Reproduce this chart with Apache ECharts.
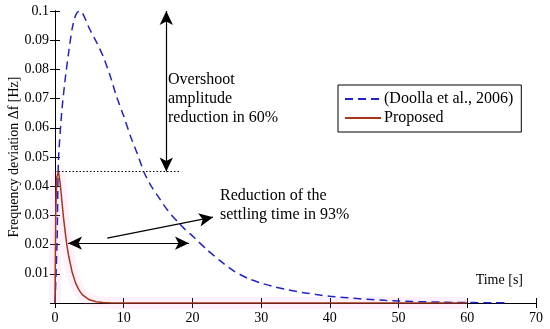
<!DOCTYPE html>
<html>
<head>
<meta charset="utf-8">
<script src="https://cdn.jsdelivr.net/npm/echarts@6/dist/echarts.min.js"></script>
<style>html,body{margin:0;padding:0;background:#fff}#c{width:550px;height:329px}</style>
</head>
<body>
<div id="c"></div>
<script>
// ---- data ----
var timeBlue = [0, 0.3, 0.5, 1, 1.5, 2, 2.5, 3, 3.5, 4, 4.5, 5, 6, 7, 8, 9, 10, 11, 12, 13, 14, 15, 16, 17, 18, 19, 20, 22, 24, 26, 28, 30, 32, 34, 36, 38, 40, 42, 44, 46, 48, 50, 52, 54, 56, 58, 60, 62, 64, 66];
var valBlue  = [0, 0.021, 0.049, 0.066, 0.077, 0.086, 0.094, 0.0985, 0.1, 0.0992, 0.0968, 0.094, 0.0895, 0.0845, 0.078, 0.0704, 0.064, 0.057, 0.051, 0.0445, 0.040, 0.0365, 0.033, 0.030, 0.0275, 0.025, 0.023, 0.0185, 0.0145, 0.011, 0.0085, 0.0068, 0.0055, 0.0045, 0.0036, 0.0029, 0.0023, 0.0019, 0.0015, 0.0012, 0.0009, 0.0007, 0.0005, 0.0004, 0.0003, 0.0002, 0.0002, 0.0001, 0.0001, 0.0001];
var timeRed = [0, 0.1, 0.25, 0.5, 0.75, 1, 1.25, 1.5, 1.75, 2, 2.5, 3, 3.5, 4, 5, 6, 7, 8, 10, 20, 30, 40, 50, 60];
var valRed  = [0, 0.03, 0.043, 0.045, 0.041, 0.035, 0.029, 0.024, 0.0195, 0.016, 0.0105, 0.0068, 0.0044, 0.0028, 0.0011, 0.0004, 0.00015, 0.00005, 0, 0, 0, 0, 0, 0];
var seriesNames = ['(Doolla et al., 2006)', 'Proposed'];
var xLabelText = 'Time [s]';
var yLabelText = 'Frequency deviation \u0394f [Hz]';
var overshootText = 'Overshoot\namplitude\nreduction in 60%';
var settlingText = 'Reduction of the\nsettling time in 93%';
// annotation anchors (data units)
var overshootArrow = [[16.2, 0.1], [16.2, 0.045]];
var overshootLevel = [[0, 0.045], [18.2, 0.045]];
var settlingArrow = [[1.9, 0.0205], [19.5, 0.0205]];
var pointerArrow = [[7.6, 0.0222], [23.0, 0.0294]];

function zip(a, b) { return a.map(function (t, i) { return [t, b[i]]; }); }

var FONT = 'Liberation Serif';
var chart = echarts.init(document.getElementById('c'), null, {renderer: 'canvas'});
var axisLine = {show: true, lineStyle: {color: '#000', width: 1}};
chart.setOption({
  animation: false,
  backgroundColor: '#fff',
  textStyle: {fontFamily: FONT},
  grid: {left: 55, right: 14, top: 11, bottom: 26, containLabel: false, outerBoundsMode: 'none'},
  legend: {
    left: 338, top: 85, orient: 'vertical',
    data: seriesNames,
    itemWidth: 36, itemHeight: 14, itemGap: 3,
    padding: [6, 8, 6, 6],
    borderColor: '#000', borderWidth: 1, backgroundColor: '#fff',
    itemStyle: {color: 'rgba(0,0,0,0)', borderWidth: 0, opacity: 0},
    textStyle: {fontFamily: FONT, fontSize: 16, color: '#000', padding: [0, 0, 0, -2]}
  },
  xAxis: [{
    type: 'value', min: 0, max: 70, interval: 10,
    axisLine: axisLine,
    axisTick: {show: true, inside: true, length: 5, lineStyle: {color: '#000'}},
    axisLabel: {color: '#000', fontFamily: FONT, fontSize: 14, margin: 8},
    splitLine: {show: false}
  }, {
    type: 'value', min: 0, max: 70, interval: 10, position: 'top',
    axisLine: axisLine,
    axisTick: {show: true, inside: true, length: 5, lineStyle: {color: '#000'}},
    axisLabel: {show: false}, splitLine: {show: false}
  }],
  yAxis: [{
    type: 'value', min: 0, max: 0.1, interval: 0.01,
    axisLine: axisLine,
    axisTick: {show: true, inside: true, length: 5, lineStyle: {color: '#000'}},
    axisLabel: {color: '#000', fontFamily: FONT, fontSize: 14, margin: 6,
      formatter: function (v) { return v === 0 ? '' : String(+v.toFixed(2)); }},
    splitLine: {show: false},
    name: yLabelText, nameLocation: 'middle', nameGap: 34, nameRotate: 90, nameMoveOverlap: false,
    nameTextStyle: {color: '#000', fontFamily: FONT, fontSize: 14}
  }, {
    type: 'value', min: 0, max: 0.1, interval: 0.01, position: 'right',
    axisLine: axisLine,
    axisTick: {show: true, inside: true, length: 5, lineStyle: {color: '#000'}},
    axisLabel: {show: false}, splitLine: {show: false}
  }],
  series: [{
    name: 'halo', type: 'line', data: zip(timeRed, valRed), symbol: 'none', silent: true,
    lineStyle: {color: 'rgba(255,140,225,0.12)', width: 12}, z: 1, legendHoverLink: false
  }, {
    name: seriesNames[0], type: 'line', data: zip(timeBlue, valBlue), symbol: 'none',
    color: '#2222cc', smooth: 0.2,
    lineStyle: {color: '#2222cc', width: 1.5, type: [8, 5]}, z: 3,
    markLine: {
      silent: true, animation: false,
      label: {show: false},
      lineStyle: {color: '#000', width: 1.2, type: 'solid'},
      symbolSize: [10, 14],
      data: [
        [{coord: overshootArrow[0], symbol: 'arrow'}, {coord: overshootArrow[1], symbol: 'arrow'}],
        [{coord: overshootLevel[0], symbol: 'none', lineStyle: {type: [1.5, 2], width: 1}}, {coord: overshootLevel[1], symbol: 'none'}],
        [{coord: settlingArrow[0], symbol: 'arrow'}, {coord: settlingArrow[1], symbol: 'arrow'}],
        [{coord: pointerArrow[0], symbol: 'none'}, {coord: pointerArrow[1], symbol: 'arrow'}]
      ]
    }
  }, {
    name: seriesNames[1], type: 'line', data: zip(timeRed, valRed), symbol: 'none',
    color: '#a8361a',
    lineStyle: {color: '#a8361a', width: 1.5}, z: 4
  }],
  graphic: [
    {type: 'text', left: 168, top: 70, style: {text: overshootText, font: '16px "Liberation Serif"', fill: '#000', lineHeight: 19}},
    {type: 'text', left: 220, top: 186, style: {text: settlingText, font: '16px "Liberation Serif"', fill: '#000', lineHeight: 19}},
    {type: 'text', right: 27, top: 273, style: {text: xLabelText, font: '14px "Liberation Serif"', fill: '#000'}}
  ]
});
</script>
</body>
</html>
